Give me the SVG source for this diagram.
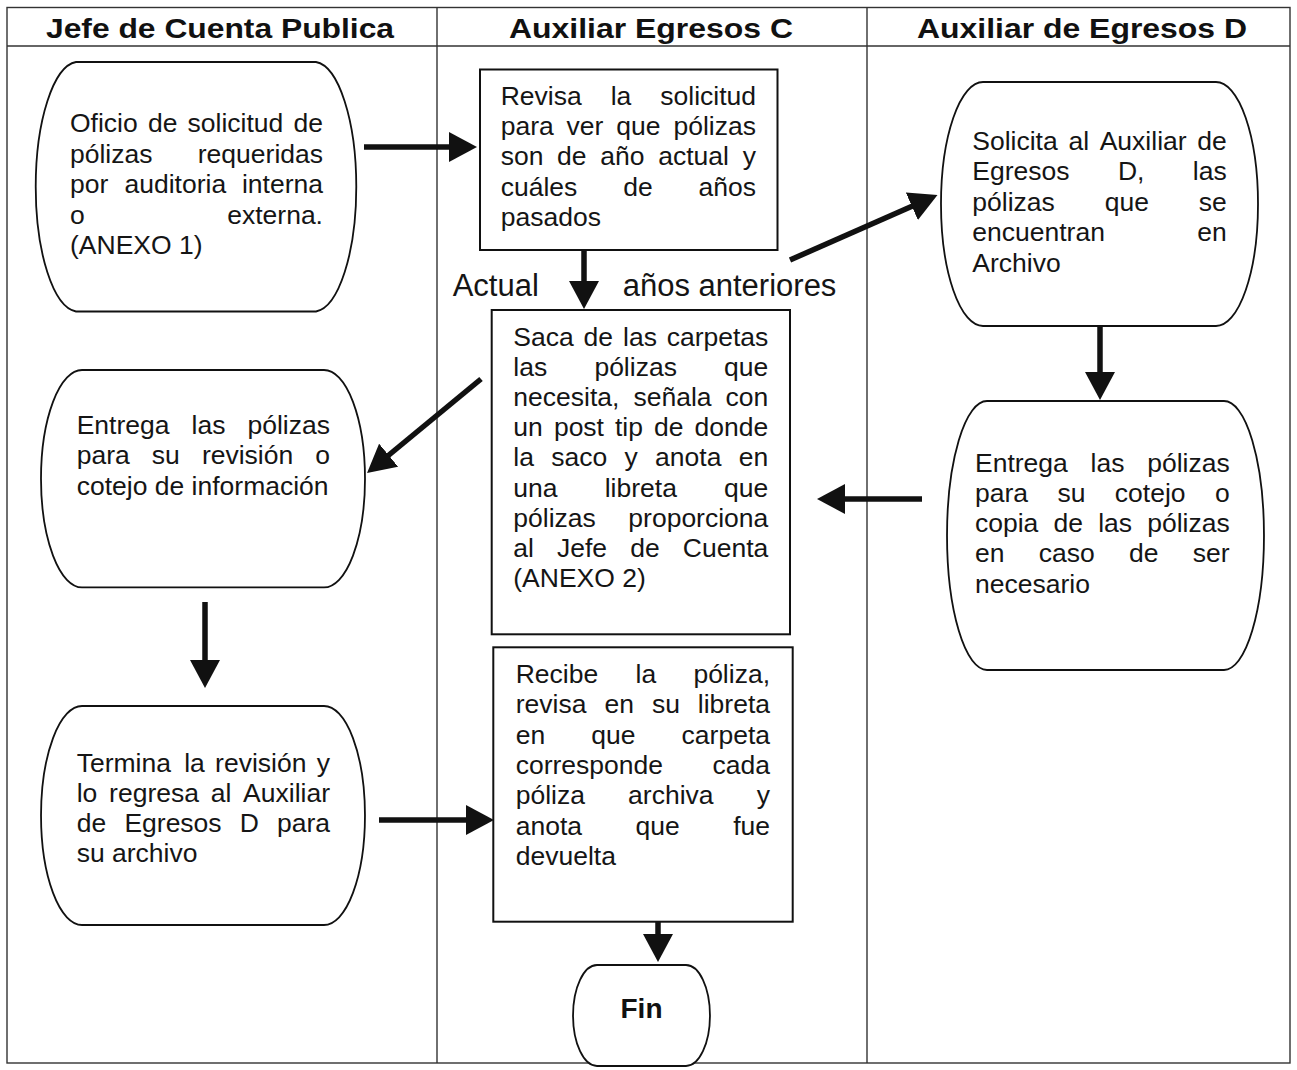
<svg xmlns="http://www.w3.org/2000/svg" width="1297" height="1070" viewBox="0 0 1297 1070">
  <style>
    .lane { fill: none; stroke: #333; stroke-width: 1.4; }
    .hdr { font-family: "Liberation Sans", Arial, sans-serif; font-weight: bold; font-size: 27px; fill: #111; }
    .t { font-family: "Liberation Sans", Arial, sans-serif; font-size: 26.5px; fill: #151515; }
    .lbl { font-family: "Liberation Sans", Arial, sans-serif; font-size: 31px; fill: #151515; }
    .fin { font-family: "Liberation Sans", Arial, sans-serif; font-weight: bold; font-size: 28px; fill: #111; }
    .term { fill: #fff; stroke: #111; stroke-width: 1.8; }
    .box { fill: #fff; stroke: #111; stroke-width: 2; }
    .flow { fill: none; stroke: #111; stroke-width: 5.5; marker-end: url(#ah); }
    .e { text-anchor: end; }
  </style>
  <defs>
    <marker id="ah" markerUnits="userSpaceOnUse" viewBox="0 0 28 30" markerWidth="28" markerHeight="30" refX="2" refY="15" orient="auto">
      <path d="M0,0 L28,15 L0,30 Z" fill="#111"/>
    </marker>
  </defs>

  <rect width="1297" height="1070" fill="#fff"/>

  <!-- swimlane table -->
  <g id="lanes">
    <rect class="lane" x="7" y="7.5" width="1283" height="1055.5"/>
    <line class="lane" x1="7" y1="46" x2="1290" y2="46" stroke-width="2"/>
    <line class="lane" x1="437" y1="7.5" x2="437" y2="1063"/>
    <line class="lane" x1="867" y1="7.5" x2="867" y2="1063"/>
    <text class="hdr" x="46" y="38" textLength="348" lengthAdjust="spacingAndGlyphs">Jefe de Cuenta Publica</text>
    <text class="hdr" x="509" y="38" textLength="284" lengthAdjust="spacingAndGlyphs">Auxiliar Egresos C</text>
    <text class="hdr" x="917" y="38" textLength="330" lengthAdjust="spacingAndGlyphs">Auxiliar de Egresos D</text>
  </g>

  <!-- Jefe de Cuenta Publica -->
  <g id="oficio">
    <path class="term" d="M76,62 H316 A43,125 0 0 1 316,311.5 H76 A43,125 0 0 1 76,62 Z"/>
    <text class="t" y="132"><tspan x="70">Oficio</tspan><tspan x="147.9">de</tspan><tspan x="187.6">solicitud</tspan><tspan x="323" class="e">de</tspan></text>
    <text class="t" y="162.5"><tspan x="70">pólizas</tspan><tspan x="323" class="e">requeridas</tspan></text>
    <text class="t" y="193"><tspan x="70">por</tspan><tspan x="124.5">auditoria</tspan><tspan x="323" class="e">interna</tspan></text>
    <text class="t" y="223.5"><tspan x="70">o</tspan><tspan x="323" class="e">externa.</tspan></text>
    <text class="t" y="254" x="70">(ANEXO 1)</text>
  </g>

  <g id="entrega-revision">
    <path class="term" d="M82,370 H324 A41,108.7 0 0 1 324,587.4 H82 A41,108.7 0 0 1 82,370 Z"/>
    <text class="t" y="433.5"><tspan x="76.7">Entrega</tspan><tspan x="191.5">las</tspan><tspan x="330" class="e">pólizas</tspan></text>
    <text class="t" y="464"><tspan x="76.7">para</tspan><tspan x="151.8">su</tspan><tspan x="201.9">revisión</tspan><tspan x="330" class="e">o</tspan></text>
    <text class="t" y="494.5" x="76.7">cotejo de información</text>
  </g>

  <g id="termina-revision">
    <path class="term" d="M82,706 H324 A41,109.5 0 0 1 324,925 H82 A41,109.5 0 0 1 82,706 Z"/>
    <text class="t" y="771.7"><tspan x="76.7">Termina</tspan><tspan x="184.2">la</tspan><tspan x="215.1">revisión</tspan><tspan x="330" class="e">y</tspan></text>
    <text class="t" y="801.9"><tspan x="76.7">lo</tspan><tspan x="109.1">regresa</tspan><tspan x="210.7">al</tspan><tspan x="330" class="e">Auxiliar</tspan></text>
    <text class="t" y="832.1"><tspan x="76.7">de</tspan><tspan x="124.4">Egresos</tspan><tspan x="239.8">D</tspan><tspan x="330" class="e">para</tspan></text>
    <text class="t" y="862.3" x="76.7">su archivo</text>
  </g>

  <!-- Auxiliar Egresos C -->
  <g id="revisa-solicitud">
    <rect class="box" x="480" y="69.5" width="297.5" height="180.5"/>
    <text class="t" y="105"><tspan x="500.7">Revisa</tspan><tspan x="610.7">la</tspan><tspan x="756" class="e">solicitud</tspan></text>
    <text class="t" y="135.2"><tspan x="500.7">para</tspan><tspan x="566.6">ver</tspan><tspan x="616.3">que</tspan><tspan x="756" class="e">pólizas</tspan></text>
    <text class="t" y="165.4"><tspan x="500.7">son</tspan><tspan x="557.1">de</tspan><tspan x="600.3">año</tspan><tspan x="658.2">actual</tspan><tspan x="756" class="e">y</tspan></text>
    <text class="t" y="195.6"><tspan x="500.7">cuáles</tspan><tspan x="623.2">de</tspan><tspan x="756" class="e">años</tspan></text>
    <text class="t" y="225.8" x="500.7">pasados</text>
  </g>

  <g id="ramas">
    <text class="lbl" x="452.7" y="295.5">Actual</text>
    <text class="lbl" x="622.7" y="295.5">años anteriores</text>
  </g>

  <g id="saca-carpetas">
    <rect class="box" x="491.7" y="310" width="298.3" height="324.3"/>
    <text class="t" y="346"><tspan x="513.3">Saca</tspan><tspan x="583.6">de</tspan><tspan x="623">las</tspan><tspan x="768.3" class="e">carpetas</tspan></text>
    <text class="t" y="376.1"><tspan x="513.3">las</tspan><tspan x="594.4">pólizas</tspan><tspan x="768.3" class="e">que</tspan></text>
    <text class="t" y="406.2"><tspan x="513.3">necesita,</tspan><tspan x="633.5">señala</tspan><tspan x="768.3" class="e">con</tspan></text>
    <text class="t" y="436.3"><tspan x="513.3">un</tspan><tspan x="553.9">post</tspan><tspan x="615">tip</tspan><tspan x="654.1">de</tspan><tspan x="768.3" class="e">donde</tspan></text>
    <text class="t" y="466.4"><tspan x="513.3">la</tspan><tspan x="551.2">saco</tspan><tspan x="624.5">y</tspan><tspan x="655.1">anota</tspan><tspan x="768.3" class="e">en</tspan></text>
    <text class="t" y="496.5"><tspan x="513.3">una</tspan><tspan x="604.7">libreta</tspan><tspan x="768.3" class="e">que</tspan></text>
    <text class="t" y="526.6"><tspan x="513.3">pólizas</tspan><tspan x="768.3" class="e">proporciona</tspan></text>
    <text class="t" y="556.7"><tspan x="513.3">al</tspan><tspan x="557">Jefe</tspan><tspan x="630.2">de</tspan><tspan x="768.3" class="e">Cuenta</tspan></text>
    <text class="t" y="586.8" x="513.3">(ANEXO 2)</text>
  </g>

  <g id="recibe-poliza">
    <rect class="box" x="493.3" y="647.3" width="299.4" height="274.4"/>
    <text class="t" y="683"><tspan x="515.7">Recibe</tspan><tspan x="635.5">la</tspan><tspan x="770" class="e">póliza,</tspan></text>
    <text class="t" y="713.3"><tspan x="515.7">revisa</tspan><tspan x="604.4">en</tspan><tspan x="651.9">su</tspan><tspan x="770" class="e">libreta</tspan></text>
    <text class="t" y="743.6"><tspan x="515.7">en</tspan><tspan x="591.3">que</tspan><tspan x="770" class="e">carpeta</tspan></text>
    <text class="t" y="773.9"><tspan x="515.7">corresponde</tspan><tspan x="770" class="e">cada</tspan></text>
    <text class="t" y="804.2"><tspan x="515.7">póliza</tspan><tspan x="628.1">archiva</tspan><tspan x="770" class="e">y</tspan></text>
    <text class="t" y="834.5"><tspan x="515.7">anota</tspan><tspan x="635.5">que</tspan><tspan x="770" class="e">fue</tspan></text>
    <text class="t" y="864.8" x="515.7">devuelta</text>
  </g>

  <g id="fin">
    <path class="term" d="M597,965 H686 A24,50.5 0 0 1 686,1066 H597 A24,50.5 0 0 1 597,965 Z"/>
    <text class="fin" x="641.5" y="1018" text-anchor="middle">Fin</text>
  </g>

  <!-- Auxiliar de Egresos D -->
  <g id="solicita-archivo">
    <path class="term" d="M983,82 H1216 A42,122 0 0 1 1216,326 H983 A42,122 0 0 1 983,82 Z"/>
    <text class="t" y="150"><tspan x="972.3">Solicita</tspan><tspan x="1068.4">al</tspan><tspan x="1099.7">Auxiliar</tspan><tspan x="1226.7" class="e">de</tspan></text>
    <text class="t" y="180.4"><tspan x="972.3">Egresos</tspan><tspan x="1117.9">D,</tspan><tspan x="1226.7" class="e">las</tspan></text>
    <text class="t" y="210.8"><tspan x="972.3">pólizas</tspan><tspan x="1104.7">que</tspan><tspan x="1226.7" class="e">se</tspan></text>
    <text class="t" y="241.2"><tspan x="972.3">encuentran</tspan><tspan x="1226.7" class="e">en</tspan></text>
    <text class="t" y="271.6" x="972.3">Archivo</text>
  </g>

  <g id="entrega-cotejo">
    <path class="term" d="M987,401 H1224 A40,134.5 0 0 1 1224,670 H987 A40,134.5 0 0 1 987,401 Z"/>
    <text class="t" y="471.8"><tspan x="975">Entrega</tspan><tspan x="1090.5">las</tspan><tspan x="1229.7" class="e">pólizas</tspan></text>
    <text class="t" y="502"><tspan x="975">para</tspan><tspan x="1057.4">su</tspan><tspan x="1114.8">cotejo</tspan><tspan x="1229.7" class="e">o</tspan></text>
    <text class="t" y="532.2"><tspan x="975">copia</tspan><tspan x="1053.5">de</tspan><tspan x="1098.2">las</tspan><tspan x="1229.7" class="e">pólizas</tspan></text>
    <text class="t" y="562.4"><tspan x="975">en</tspan><tspan x="1038.8">caso</tspan><tspan x="1129.1">de</tspan><tspan x="1229.7" class="e">ser</tspan></text>
    <text class="t" y="592.6" x="975">necesario</text>
  </g>

  <!-- flow arrows -->
  <g id="connectors">
    <line class="flow" x1="364" y1="147" x2="451" y2="147"/>
    <line class="flow" x1="584" y1="251" x2="584" y2="283"/>
    <line class="flow" x1="790" y1="260" x2="913.7" y2="205.5"/>
    <line class="flow" x1="481" y1="379" x2="387.1" y2="456.5"/>
    <line class="flow" x1="922" y1="499" x2="843" y2="499"/>
    <line class="flow" x1="1100" y1="327" x2="1100" y2="374"/>
    <line class="flow" x1="205" y1="602" x2="205" y2="662"/>
    <line class="flow" x1="379" y1="820" x2="468" y2="820"/>
    <line class="flow" x1="658" y1="922" x2="658" y2="936"/>
  </g>
</svg>
